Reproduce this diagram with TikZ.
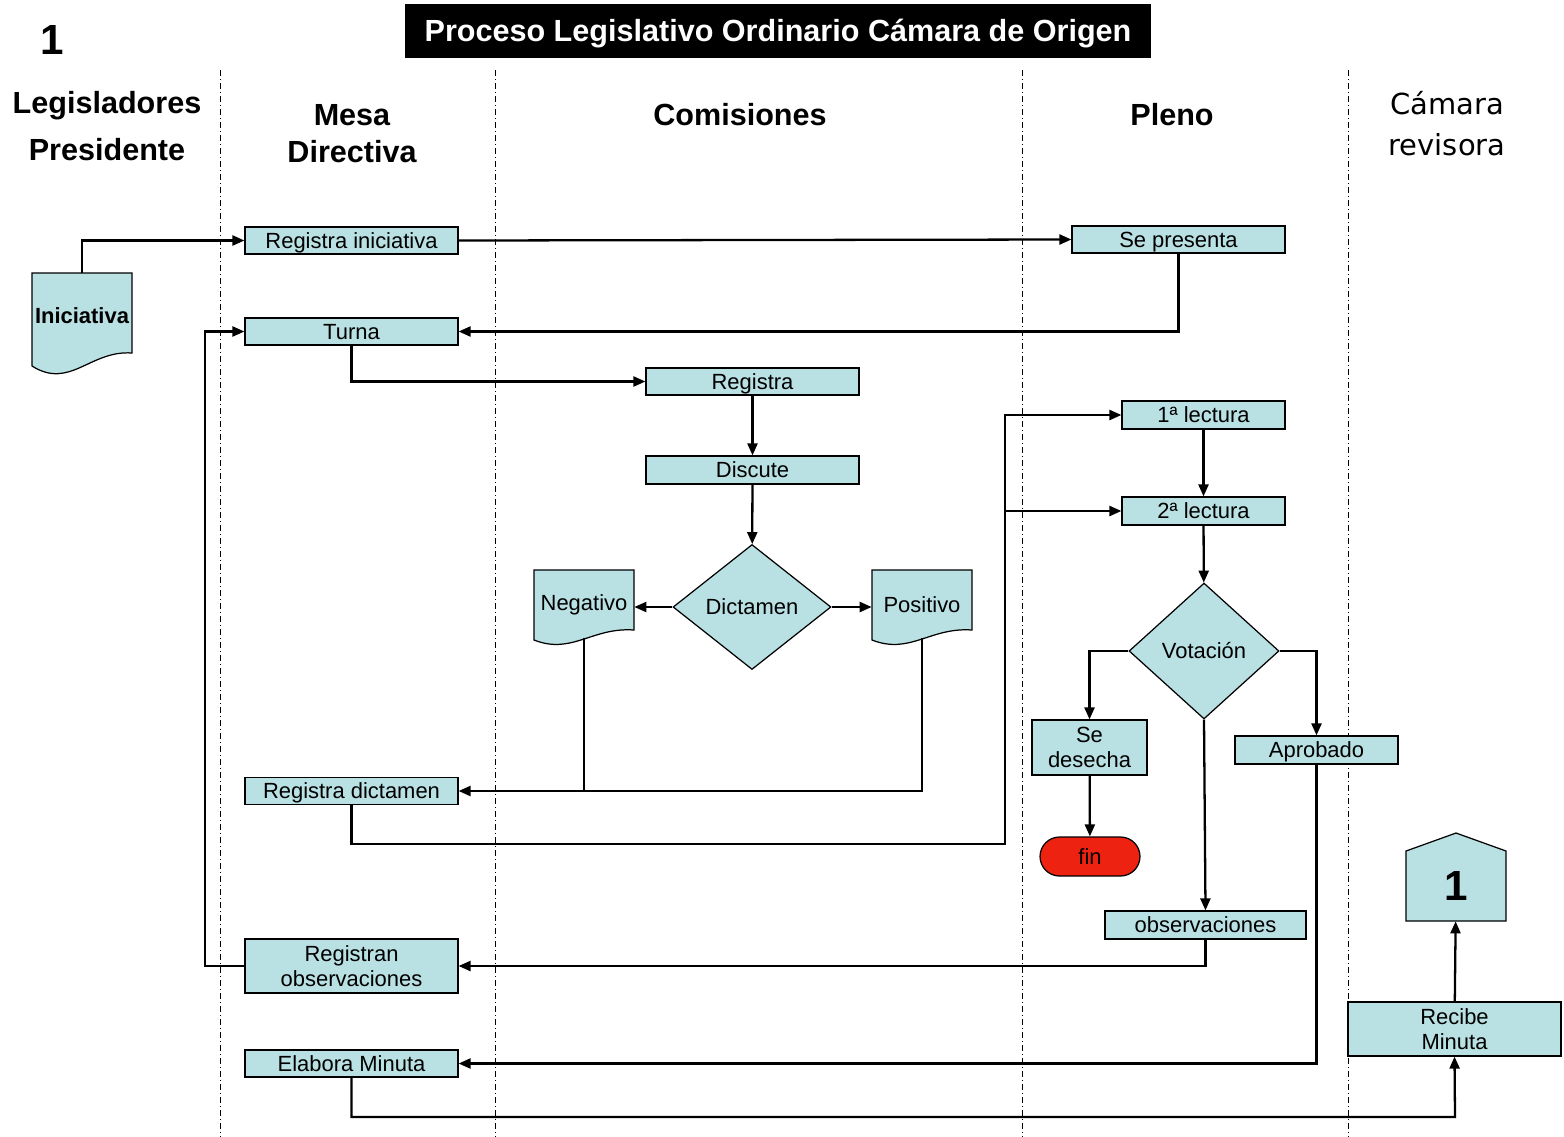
\documentclass[tikz,border=0pt]{standalone}
\usepackage{fontspec}
\setmainfont{Liberation Sans}
\newfontfamily\lanefont{DejaVu Sans}
\usetikzlibrary{arrows.meta,shapes.geometric}

\definecolor{boxblue}{RGB}{185,224,227}
\definecolor{finred}{RGB}{238,34,17}

\tikzset{
	box/.style={draw, fill=boxblue, line width=0.7pt, inner sep=0pt, align=center,
		minimum width=4.26cm, minimum height=0.54cm, font=\fontsize{12.5}{14.2}\selectfont},
	oneline/.style={text height=9.3pt, text depth=0.3pt},
	decision/.style={diamond, draw, fill=boxblue, line width=0.7pt, inner sep=0pt, oneline,
		font=\fontsize{12.5}{14.2}\selectfont},
	docbox/.style={inner sep=0pt, minimum width=2cm, font=\fontsize{12.5}{14.2}\selectfont},
	shapefill/.style={draw, fill=boxblue, line width=0.7pt},
	conn/.style={line width=1.3pt, -{Triangle[length=0.24cm,width=0.2cm]}},
	link/.style={line width=1.3pt},
	lane/.style={line width=0.5pt, dash pattern=on 0.12cm off 0.06cm on 0.02cm off 0.06cm},
	heading/.style={align=center, font=\bfseries\fontsize{17.4}{21}\selectfont}
}

\begin{document}
\begin{tikzpicture}[x=0.02cm, y=-0.02cm]
	\useasboundingbox (0,0) rectangle (1564,1136);

	% lanes and titles
	\foreach \x in {220,495,1022,1348}
		\draw [lane] (\x,70) -- (\x,1136);
	\node [fill=black, text=white, inner sep=0pt, minimum width=14.92cm, minimum height=1.08cm,
		text height=12.8pt, text depth=0.3pt,
		font=\bfseries\fontsize{17.4}{20}\selectfont] (title) at (778,31) {Proceso Legislativo Ordinario Cámara de Origen};
	\node [font=\bfseries\fontsize{24}{28}\selectfont] (pagenum) at (52,40) {1};
	\node [heading, font=\bfseries\fontsize{17.4}{26.7}\selectfont] (hleg) at (107,126.5) {Legisladores\\Presidente};
	\node [heading] (hmesa) at (352,133.5) {Mesa\\Directiva};
	\node [heading] (hcom) at (740,115) {Comisiones};
	\node [heading] (hpleno) at (1172,115) {Pleno};
	\node [align=center, font=\lanefont\fontsize{16.5}{23.3}\selectfont] (hrev) at (1447,123.5) {Cámara\\revisora};

	% document shapes
	\draw [shapefill] (32,273) -- (132,273) -- (132,353) .. controls (90,350) and (70,390) .. (32,366) -- cycle;
	\node [docbox, minimum height=1.72cm, font=\bfseries\fontsize{12.5}{14.2}\selectfont] (ini) at (82,316) {Iniciativa};
	\draw [shapefill] (534,570) -- (634,570) -- (634,630) .. controls (592,627) and (572,655) .. (534,640) -- cycle;
	\node [docbox, minimum height=1.32cm] (neg) at (584,605) {Negativo};
	\draw [shapefill] (872,570) -- (972,570) -- (972,630) .. controls (930,627) and (910,655) .. (872,640) -- cycle;
	\node [docbox, minimum height=1.32cm] (pos) at (922,605) {Positivo};
	\draw [shapefill] (1406,921) -- (1406,851) -- (1456,833) -- (1506,851) -- (1506,921) -- cycle;
	\node [docbox, minimum height=1.4cm, font=\bfseries\fontsize{24}{28}\selectfont] (page) at (1456,886) {1};

	% boxes
	\node [box, oneline] (regini) at (351.5,240.5) {Registra iniciativa};
	\node [box, oneline] (turna) at (351.5,331.5) {Turna};
	\node [box, oneline] (regdic) at (351.5,791) {Registra dictamen};
	\node [box, minimum height=1.08cm] (regobs) at (351.5,966) {Registran\\observaciones};
	\node [box, oneline] (elab) at (351.5,1063.5) {Elabora Minuta};
	\node [box, oneline] (reg) at (752.5,381.5) {Registra};
	\node [box, oneline, minimum height=0.56cm] (disc) at (752.5,470) {Discute};
	\node [decision, minimum width=3.16cm, minimum height=2.5cm] (dict) at (752,607) {Dictamen};
	\node [box, oneline] (sepres) at (1178.5,239.5) {Se presenta};
	\node [box, oneline, minimum width=3.26cm, minimum height=0.56cm] (lec1) at (1203.5,415) {1ª lectura};
	\node [box, oneline, minimum width=3.26cm, minimum height=0.56cm] (lec2) at (1203.5,511) {2ª lectura};
	\node [decision, minimum width=3cm, minimum height=2.72cm] (vot) at (1204,651) {Votación};
	\node [box, minimum width=2.3cm, minimum height=1.1cm] (desecha) at (1089.5,747.5) {Se\\desecha};
	\node [box, oneline, fill=finred, rounded corners=0.39cm, minimum width=2cm, minimum height=0.78cm] (fin) at (1090,856.5) {fin};
	\node [box, oneline, minimum width=3.26cm, minimum height=0.56cm] (aprob) at (1316.5,750) {Aprobado};
	\node [box, oneline, minimum width=4.02cm, minimum height=0.56cm] (obs) at (1205.5,925) {observaciones};
	\node [box, minimum height=1.08cm] (recibe) at (1454.5,1029) {Recibe\\Minuta};

	\coordinate (bus) at (1005,844);
	\coordinate (back) at (205,966);
	\coordinate (base) at (1455,1117);

	% connectors
	\draw [conn] (ini.north) |- (regini.west);
	\draw [conn] (regini.east) -- (sepres.west);
	\draw [conn] (sepres.south) |- (turna.east);
	\draw [conn] (turna.south) |- (reg.west);
	\draw [conn] (reg) -- (disc);
	\draw [conn] (disc) -- (dict);
	\draw [conn] (dict.west) -- (dict.west -| neg.east);
	\draw [conn] (dict.east) -- (dict.east -| pos.west);
	\draw [link] (neg.south) -- (neg.south |- regdic.east);
	\draw [conn] (pos.south) |- (regdic.east);
	\draw [conn] (regdic.south) |- (bus) |- (lec1.west);
	\draw [conn] (bus |- lec2.west) -- (lec2.west);
	\draw [conn] (lec1) -- (lec2);
	\draw [conn] (lec2) -- (vot);
	\draw [conn] (vot.west) -| (desecha.north);
	\draw [conn] (vot.east) -| (aprob.north);
	\draw [conn] (vot.south) -- (obs.north);
	\draw [conn] (desecha) -- (fin);
	\draw [conn] (obs.south) |- (regobs.east);
	\draw [conn] (regobs.west) -- (back) |- (turna.west);
	\draw [conn] (aprob.south) |- (elab.east);
	\draw [conn] (elab.south) |- (base) -- (recibe.south);
	\draw [conn] (recibe) -- (page);

\end{tikzpicture}
\end{document}
